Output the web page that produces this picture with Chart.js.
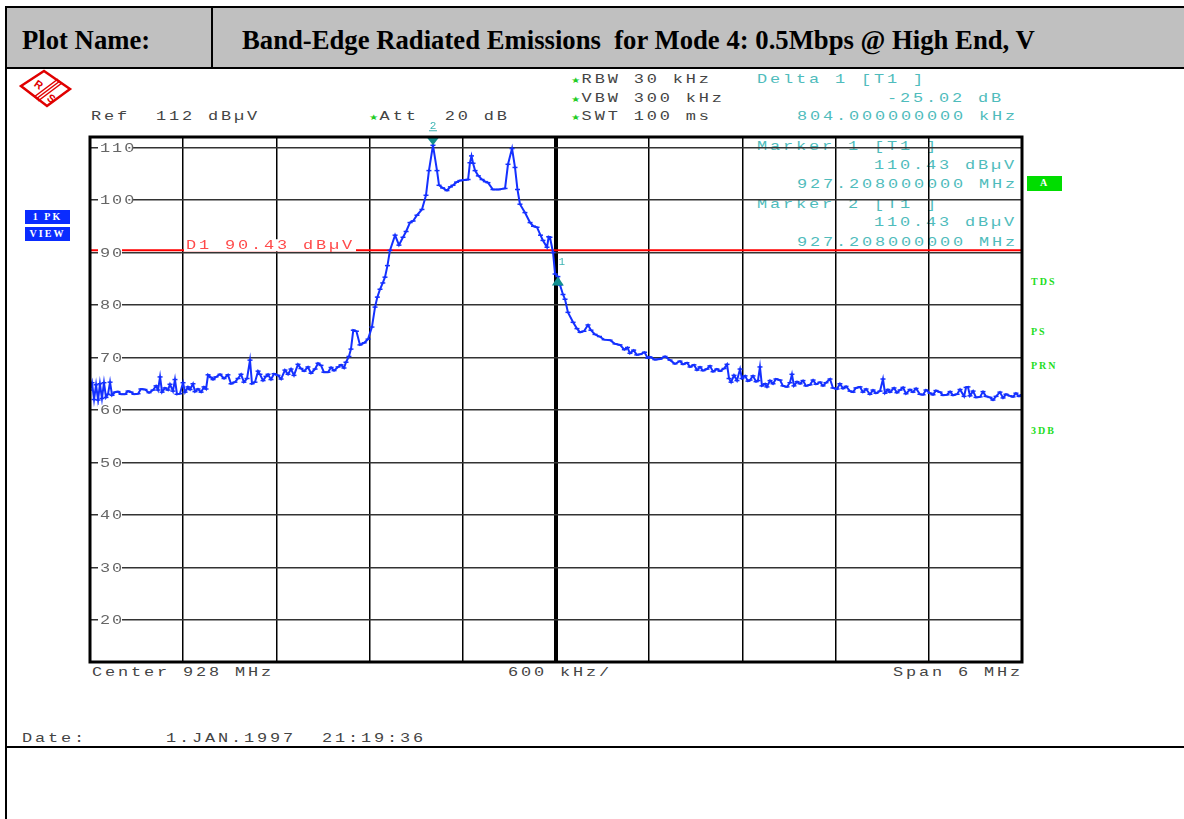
<!DOCTYPE html>
<html>
<head>
<meta charset="utf-8">
<script src="https://cdn.jsdelivr.net/npm/chart.js@4.4.1/dist/chart.umd.min.js"></script>
<style>
  html, body { margin: 0; padding: 0; background: #fff; overflow: hidden; }
  #page { position: relative; width: 1184px; height: 819px; overflow: hidden; }
  .frame { position: absolute; left: 5px; top: 6px; width: 1200px; height: 840px; border: 2px solid #000; box-sizing: border-box; }
  .head { position: absolute; left: 5px; top: 6px; width: 1200px; height: 63px; background: #c0c0c0; border: 2px solid #000; box-sizing: border-box; }
  .vdiv { position: absolute; left: 211px; top: 6px; width: 2px; height: 63px; background: #000; }
  .hline { position: absolute; left: 5px; top: 746px; width: 1200px; height: 2px; background: #000; }
  .ht { position: absolute; font: bold 26.7px "Liberation Serif"; color: #000; white-space: pre; line-height: 30px; }
  .t { position: absolute; font: 13px "Liberation Mono"; letter-spacing: 2.2px; white-space: pre; line-height: 14px; color: #444;
       transform: scaleX(1.3); transform-origin: 0 0; }
  .teal { color: #4fbcbc; }
  .star { color: #22cc22; font: 8px "DejaVu Sans"; letter-spacing: 1px; }
  .g { position: absolute; font: bold 10px "Liberation Serif"; letter-spacing: 2px; color: #22dd22; line-height: 12px; }
  .box { position: absolute; background: #0a2cff; color: #fff; font: bold 10px "Liberation Serif"; letter-spacing: 2px; text-align: center; line-height: 14px; }
  canvas { position: absolute; left: 0; top: 0; z-index: 2; }
</style>
</head>
<body>
<div id="page">
  <div class="frame"></div>
  <div class="head"></div>
  <div class="vdiv"></div>
  <div class="hline"></div>
  <div class="ht" style="left:22px;top:25px">Plot Name:</div>
  <div class="ht" style="left:242px;top:25px">Band-Edge Radiated Emissions  for Mode 4: 0.5Mbps @ High End, V</div>

  <svg style="position:absolute;left:18px;top:68px" width="56" height="42" viewBox="0 0 56 42">
    <polygon points="3,18 26,3 52,21 29,38" fill="none" stroke="#e00000" stroke-width="2.5"/>
    <line x1="16" y1="29" x2="40" y2="11" stroke="#e00000" stroke-width="1.5"/>
    <line x1="18" y1="31" x2="42" y2="13" stroke="#e00000" stroke-width="1.5"/>
    <line x1="20" y1="33" x2="44" y2="15" stroke="#e00000" stroke-width="1.5"/>
    <text x="17" y="20" font-family="Liberation Sans" font-weight="bold" font-size="11" fill="#e00000" transform="rotate(35 20 16)">R</text>
    <text x="30" y="34" font-family="Liberation Sans" font-weight="bold" font-size="11" fill="#e00000" transform="rotate(35 33 30)">S</text>
  </svg>

  <div class="t" style="left:91px;top:110px">Ref  112 dBµV</div>
  <div class="t" style="left:369px;top:110px"><span class="star">★</span>Att  20 dB</div>
  <div class="t" style="left:571px;top:73px"><span class="star">★</span>RBW 30 kHz</div>
  <div class="t" style="left:571px;top:92px"><span class="star">★</span>VBW 300 kHz</div>
  <div class="t" style="left:571px;top:110px"><span class="star">★</span>SWT 100 ms</div>

  <div class="t teal" style="left:757px;top:73px">Delta 1 [T1 ]</div>
  <div class="t teal" style="left:887px;top:92px">-25.02 dB</div>
  <div class="t teal" style="left:797px;top:110px">804.000000000 kHz</div>
  <div class="t teal" style="left:757px;top:140px">Marker 1 [T1 ]</div>
  <div class="t teal" style="left:874px;top:159px">110.43 dBµV</div>
  <div class="t teal" style="left:797px;top:178px">927.208000000 MHz</div>
  <div class="t teal" style="left:757px;top:198px">Marker 2 [T1 ]</div>
  <div class="t teal" style="left:874px;top:216px">110.43 dBµV</div>
  <div class="t teal" style="left:797px;top:236px">927.208000000 MHz</div>

  <div class="box" style="left:25px;top:210px;width:45px;height:14px">1 PK</div>
  <div class="box" style="left:25px;top:227px;width:45px;height:14px">VIEW</div>
  <div class="box" style="left:1027px;top:176px;width:35px;height:15px;background:#00dd00">A</div>
  <div class="g" style="left:1031px;top:276px">TDS</div>
  <div class="g" style="left:1031px;top:326px">PS</div>
  <div class="g" style="left:1031px;top:360px">PRN</div>
  <div class="g" style="left:1031px;top:425px">3DB</div>

  <div class="t" style="left:92px;top:666px">Center 928 MHz</div>
  <div class="t" style="left:508px;top:666px">600 kHz/</div>
  <div class="t" style="left:893px;top:666px">Span 6 MHz</div>
  <div class="t" style="left:22px;top:732px">Date:</div>
  <div class="t" style="left:166px;top:732px">1.JAN.1997</div>
  <div class="t" style="left:322px;top:732px">21:19:36</div>

  <canvas id="c" width="1184" height="819"></canvas>
</div>
<script>
// trace: [frequency MHz, level dBuV]
const trace = [
  [925.000, 63.8], [925.013, 65.2], [925.026, 62.0], [925.039, 64.8], [925.052, 61.9],
  [925.064, 65.0], [925.077, 62.2], [925.090, 65.2], [925.103, 62.4], [925.116, 63.0],
  [925.129, 65.3], [925.142, 62.8], [925.161, 63.4], [925.180, 63.5], [925.200, 63.0],
  [925.225, 63.0], [925.245, 63.6], [925.264, 63.4], [925.283, 63.0], [925.309, 63.1],
  [925.328, 64.0], [925.354, 63.9], [925.380, 63.3], [925.406, 63.8], [925.425, 64.6],
  [925.438, 63.8], [925.451, 66.3], [925.464, 63.4], [925.483, 64.2], [925.502, 63.8],
  [925.515, 64.9], [925.534, 63.6], [925.547, 65.8], [925.560, 63.0], [925.579, 63.1],
  [925.599, 65.2], [925.612, 63.4], [925.631, 64.4], [925.644, 63.9], [925.663, 65.0],
  [925.676, 63.5], [925.695, 64.0], [925.715, 63.4], [925.734, 64.4], [925.747, 64.0],
  [925.760, 66.7], [925.779, 66.2], [925.792, 65.8], [925.811, 66.3], [925.837, 66.8],
  [925.863, 66.0], [925.888, 66.7], [925.908, 65.0], [925.933, 65.3], [925.953, 66.0],
  [925.972, 66.8], [925.991, 65.3], [926.011, 66.0], [926.030, 69.5], [926.043, 65.0],
  [926.062, 65.3], [926.082, 67.4], [926.094, 66.8], [926.114, 65.6], [926.133, 66.4],
  [926.146, 66.8], [926.165, 65.8], [926.185, 66.9], [926.210, 66.6], [926.230, 65.9],
  [926.255, 67.6], [926.275, 66.8], [926.294, 67.8], [926.313, 66.6], [926.339, 68.7],
  [926.358, 67.9], [926.378, 67.4], [926.403, 68.2], [926.423, 67.0], [926.449, 67.8],
  [926.468, 68.9], [926.487, 68.5], [926.506, 67.2], [926.532, 67.2], [926.552, 68.1],
  [926.571, 67.5], [926.597, 68.2], [926.616, 68.6], [926.635, 68.0], [926.648, 69.1],
  [926.667, 70.2], [926.680, 71.6], [926.695, 75.2], [926.715, 75.0], [926.738, 72.4],
  [926.765, 72.8], [926.790, 73.5], [926.815, 75.8], [926.835, 79.6], [926.850, 81.5],
  [926.867, 83.0], [926.885, 84.2], [926.899, 85.3], [926.915, 87.5], [926.931, 90.4],
  [926.964, 93.3], [926.989, 91.4], [927.015, 92.9], [927.035, 94.0], [927.060, 95.7],
  [927.080, 96.0], [927.105, 97.1], [927.137, 98.2], [927.163, 100.9], [927.182, 105.6],
  [927.208, 110.43], [927.234, 105.6], [927.247, 102.8], [927.270, 102.3], [927.298, 101.8],
  [927.320, 102.5], [927.337, 102.8], [927.360, 103.4], [927.382, 103.7], [927.410, 103.8],
  [927.434, 103.9], [927.446, 107.1], [927.456, 108.4], [927.466, 107.0], [927.479, 105.6],
  [927.500, 104.6], [927.524, 103.9], [927.545, 103.5], [927.562, 103.3], [927.594, 102.0],
  [927.630, 102.0], [927.672, 102.2], [927.691, 106.8], [927.717, 109.8], [927.736, 106.2],
  [927.752, 102.0], [927.768, 99.2], [927.800, 97.6], [927.833, 95.7], [927.855, 95.0],
  [927.878, 94.8], [927.900, 93.3], [927.916, 92.3], [927.942, 91.0], [927.953, 93.0],
  [927.961, 92.9], [927.981, 90.0], [927.994, 85.9], [928.012, 85.41], [928.026, 83.8],
  [928.045, 82.0], [928.058, 81.1], [928.077, 78.6], [928.110, 76.7], [928.135, 75.5],
  [928.155, 74.8], [928.180, 75.0], [928.206, 76.2], [928.225, 75.2], [928.251, 74.4],
  [928.280, 74.0], [928.310, 73.4], [928.348, 73.3], [928.380, 72.6], [928.412, 72.4],
  [928.440, 71.5], [928.460, 71.9], [928.476, 70.8], [928.500, 71.4], [928.520, 70.5],
  [928.541, 70.6], [928.570, 71.0], [928.590, 69.9], [928.605, 70.1], [928.637, 69.6],
  [928.670, 69.7], [928.702, 70.2], [928.734, 69.5], [928.766, 68.8], [928.798, 69.3],
  [928.818, 68.7], [928.843, 69.0], [928.863, 68.2], [928.888, 68.6], [928.908, 67.6],
  [928.927, 68.2], [928.946, 67.5], [928.972, 67.8], [928.991, 68.4], [929.011, 67.3],
  [929.036, 67.8], [929.056, 67.4], [929.082, 67.9], [929.101, 68.7], [929.114, 66.0],
  [929.127, 65.3], [929.146, 66.6], [929.165, 65.6], [929.185, 67.8], [929.197, 66.0],
  [929.217, 66.5], [929.236, 65.5], [929.249, 65.7], [929.268, 66.5], [929.288, 65.4],
  [929.300, 65.6], [929.313, 68.2], [929.326, 64.6], [929.346, 65.0], [929.358, 64.4],
  [929.378, 65.6], [929.397, 65.0], [929.416, 65.9], [929.442, 65.7], [929.461, 64.6],
  [929.487, 64.4], [929.506, 65.2], [929.519, 66.8], [929.532, 64.6], [929.552, 65.4],
  [929.571, 65.0], [929.590, 65.6], [929.609, 64.6], [929.635, 64.8], [929.655, 65.7],
  [929.674, 64.9], [929.700, 65.3], [929.719, 64.6], [929.738, 65.2], [929.764, 65.9],
  [929.783, 64.2], [929.809, 64.0], [929.828, 65.0], [929.848, 64.1], [929.867, 64.5],
  [929.893, 63.6], [929.912, 63.4], [929.931, 64.2], [929.957, 64.4], [929.976, 63.4],
  [929.996, 64.0], [930.021, 63.0], [930.041, 63.8], [930.060, 63.2], [930.086, 63.6],
  [930.105, 65.9], [930.118, 63.2], [930.137, 63.9], [930.150, 63.4], [930.176, 64.2],
  [930.195, 63.3], [930.215, 63.8], [930.234, 64.3], [930.253, 63.1], [930.279, 63.9],
  [930.298, 63.4], [930.318, 64.1], [930.343, 63.0], [930.363, 62.9], [930.382, 63.8],
  [930.408, 63.2], [930.427, 62.9], [930.446, 63.7], [930.472, 63.4], [930.491, 62.8],
  [930.517, 62.9], [930.537, 63.5], [930.556, 62.8], [930.582, 63.0], [930.601, 63.9],
  [930.627, 62.6], [930.640, 64.3], [930.652, 64.4], [930.665, 62.7], [930.685, 63.6],
  [930.704, 62.4], [930.730, 62.5], [930.749, 63.5], [930.768, 62.6], [930.794, 62.4],
  [930.813, 61.9], [930.833, 62.6], [930.858, 63.4], [930.878, 62.3], [930.897, 63.0],
  [930.923, 62.7], [930.942, 62.5], [930.961, 63.2], [930.981, 62.6], [931.000, 62.9]
];
const yTicks = [20, 30, 40, 50, 60, 70, 80, 90, 100, 110];
const xTicks = [925, 925.6, 926.2, 926.8, 927.4, 928, 928.6, 929.2, 929.8, 930.4, 931];
const markerFreq = [927.208, 928.012];
const markerLevel = [110.43, 85.41];
const markerLabels = ['2', '1'];
const displayLine = 90.43;
const displayLabel = 'D1 90.43 dBµV';

const TEAL = '#138f8f';

// draws stretched mono text like the analyzer's printer font
function wideText(ctx, s, x, y, spacing) {
  ctx.save();
  ctx.translate(x, y);
  ctx.scale(1.3, 1);
  ctx.letterSpacing = spacing + 'px';
  ctx.fillText(s, 0, 0);
  const w = ctx.measureText(s).width * 1.3;
  ctx.restore();
  return w;
}

const overlay = {
  id: 'overlay',
  afterDatasetsDraw(chart) {
    const { ctx, chartArea: a, scales } = chart;
    const xs = scales.x, ys = scales.y;
    ctx.save();
    ctx.font = '13px "Liberation Mono"';
    ctx.textBaseline = 'middle';
    // level labels sitting on the grid lines
    yTicks.forEach(v => {
      const y = ys.getPixelForValue(v);
      ctx.fillStyle = '#fff';
      ctx.fillRect(a.left + 8, y - 5, v >= 100 ? 35 : 24, 10);
      ctx.fillStyle = '#666';
      wideText(ctx, String(v), a.left + 10, y + 1, 1.5);
    });
    // display line label
    const dy = ys.getPixelForValue(displayLine);
    const dx = a.left + 96;
    ctx.fillStyle = '#fff';
    ctx.fillRect(dx - 2, dy - 11, 172, 12);
    ctx.fillStyle = '#ff4a4a';
    ctx.textBaseline = 'alphabetic';
    wideText(ctx, displayLabel, dx, dy - 1, 2.2);
    // markers
    markerFreq.forEach((f, i) => {
      const px = xs.getPixelForValue(f), py = ys.getPixelForValue(markerLevel[i]);
      ctx.fillStyle = TEAL;
      ctx.beginPath();
      if (i === 0) {
        ctx.moveTo(px, py); ctx.lineTo(px - 7, py - 9); ctx.lineTo(px + 7, py - 9);
      } else {
        ctx.moveTo(px, py); ctx.lineTo(px - 6, py + 9); ctx.lineTo(px + 6, py + 9);
      }
      ctx.closePath();
      ctx.fill();
      ctx.font = '11px "Liberation Mono"';
      ctx.fillStyle = '#3cb4b4';
      ctx.textAlign = 'center';
      if (i === 0) {
        ctx.fillText(markerLabels[i], px, py - 16);
        ctx.fillRect(px - 4, py - 15, 8, 1);
      } else {
        ctx.fillText(markerLabels[i], px + 4, py - 12);
      }
      ctx.textAlign = 'left';
    });
    ctx.restore();
  },
  afterDraw(chart) {
    const { ctx, chartArea: a } = chart;
    ctx.save();
    ctx.strokeStyle = '#000';
    ctx.lineWidth = 3;
    ctx.strokeRect(a.left, a.top, a.right - a.left, a.bottom - a.top);
    ctx.restore();
  }
};

new Chart(document.getElementById('c'), {
  type: 'scatter',
  data: {
    datasets: [
      {
        data: trace.map(p => ({ x: p[0], y: p[1] })),
        showLine: true,
        borderColor: '#1430ff',
        borderWidth: 2,
        pointStyle: 'line',
        pointRadius: 2.5,
        pointBorderColor: '#1430ff',
        pointBorderWidth: 1.5,
        order: 1
      },
      {
        data: [{ x: 925, y: displayLine }, { x: 931, y: displayLine }],
        showLine: true,
        borderColor: '#ff0000',
        borderWidth: 2,
        pointRadius: 0,
        order: 2
      }
    ]
  },
  options: {
    responsive: false,
    animation: false,
    devicePixelRatio: 1,
    layout: { padding: { left: 90, top: 137, right: 162, bottom: 157 } },
    plugins: { legend: { display: false }, tooltip: { enabled: false } },
    scales: {
      x: {
        type: 'linear', min: 925, max: 931,
        afterBuildTicks: s => { s.ticks = xTicks.map(v => ({ value: v })); },
        ticks: { display: false },
        grid: {
          color: '#000',
          lineWidth: c => (c.tick && Math.abs(c.tick.value - 928) < 1e-6) ? 4 : 1.5,
          drawTicks: false
        },
        border: { display: false }
      },
      y: {
        type: 'linear', min: 12, max: 112,
        afterBuildTicks: s => { s.ticks = yTicks.map(v => ({ value: v })); },
        ticks: { display: false },
        grid: { color: '#333', lineWidth: 1.5, drawTicks: false },
        border: { display: false }
      }
    }
  },
  plugins: [overlay]
});
</script>
</body>
</html>
